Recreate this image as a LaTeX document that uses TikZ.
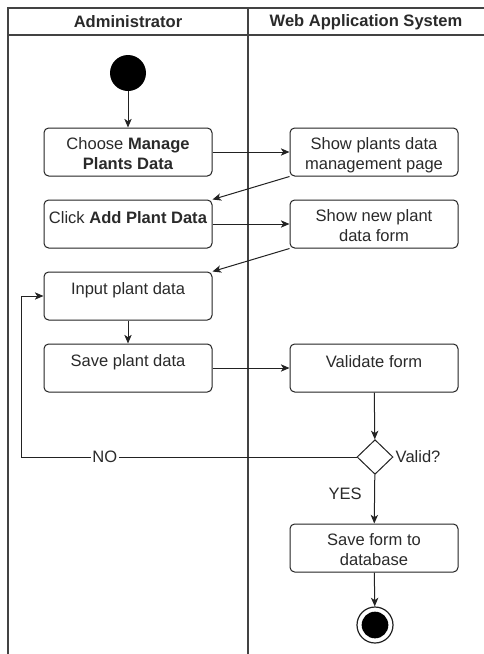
\documentclass[tikz,border=0pt]{standalone}
\usepackage{fontspec}
\setmainfont{Liberation Sans}
\usetikzlibrary{shapes.geometric,arrows.meta}
\definecolor{ink}{HTML}{222222}
\definecolor{txt}{HTML}{2A2A2A}
% text placement inside activity boxes
\newcommand{\oneline}[1]{\raisebox{4.5pt}[\height][\depth]{#1}}
\newcommand{\twoline}[2]{\raisebox{-2.5pt}[\height][\depth]{\begin{tabular}{@{}c@{}}#1\\#2\end{tabular}}}
\begin{document}
\begin{tikzpicture}[x=0.75pt,y=-0.75pt,
  every node/.style={font=\fontsize{12.4pt}{15pt}\selectfont, text=txt},
  lane/.style={draw=ink!85, line width=0.8pt},
  act/.style={draw=ink, line width=0.75pt, rounded corners=3.5pt, minimum width=126pt, minimum height=36pt, inner sep=0pt, align=center},
  flow/.style={draw=ink, line width=0.75pt, -{Stealth[length=6.5pt,width=5.5pt,inset=1.8pt]}}]
% canvas
\path[use as bounding box] (0,0) rectangle (484,654);
\fill[white] (0,0) rectangle (484,654);

% swimlanes
\draw[lane] (8,654) -- (8,8) -- (484,8);
\draw[lane] (8,35) -- (484,35);
\draw[lane] (248,8) -- (248,654);
\node[font=\fontsize{12.4pt}{15pt}\selectfont\bfseries] (laneA) at (128,22) {Administrator};
\node[font=\fontsize{12.4pt}{15pt}\selectfont\bfseries] (laneB) at (366,22) {Web Application System};

% initial node
\node[circle, fill=black, minimum size=27pt, inner sep=0pt] (start) at (128,73) {};

% activities: Administrator
\node[act] (choose) at (128,152) {\twoline{Choose \textbf{Manage}}{\textbf{Plants Data}}};
\node[act] (click)  at (128,224) {\oneline{Click \textbf{Add Plant Data}}};
\node[act] (input)  at (128,296) {\oneline{Input plant data}};
\node[act] (save)   at (128,368) {\oneline{Save plant data}};

% activities: Web Application System
\node[act] (page)     at (374,152) {\twoline{Show plants data}{management page}};
\node[act] (form)     at (374,224) {\twoline{Show new plant}{data form}};
\node[act] (validate) at (374,368) {\oneline{Validate form}};
\node[draw=ink, line width=0.75pt, diamond, minimum width=27pt, minimum height=26pt, inner sep=0pt, fill=white] (valid) at (375,457) {};
\node[anchor=west] (validlbl) at (391,457) {Valid?};
\node[act] (store) at (374,548) {\twoline{Save form to}{database}};

% final node
\node[circle, draw=ink, line width=0.9pt, minimum size=27pt, inner sep=0pt] (finish) at (375,625) {};
\node[circle, fill=black, minimum size=20pt, inner sep=0pt] (finishdot) at (375,625) {};

% control flow
\draw[flow] (start) -- (choose);
\draw[flow] (choose) -- (page);
\draw[flow] (page.south west) -- (click.north east);
\draw[flow] (click) -- (form);
\draw[flow] (form.south west) -- (input.north east);
\draw[flow] (input) -- (save);
\draw[flow] (save) -- (validate);
\draw[flow] (validate) -- (valid);
\coordinate (loopA) at (21,457);
\coordinate (loopB) at (21,296);
\draw[flow] (valid.west) -- node[pos=0.75, fill=white, inner sep=1pt] (no) {NO} (loopA) -- (loopB) -- (input.west);
\draw[flow] (valid) -- node[left=6pt, pos=0.4] (yes) {YES} (store);
\draw[flow] (store) -- (finish);
\end{tikzpicture}
\end{document}
